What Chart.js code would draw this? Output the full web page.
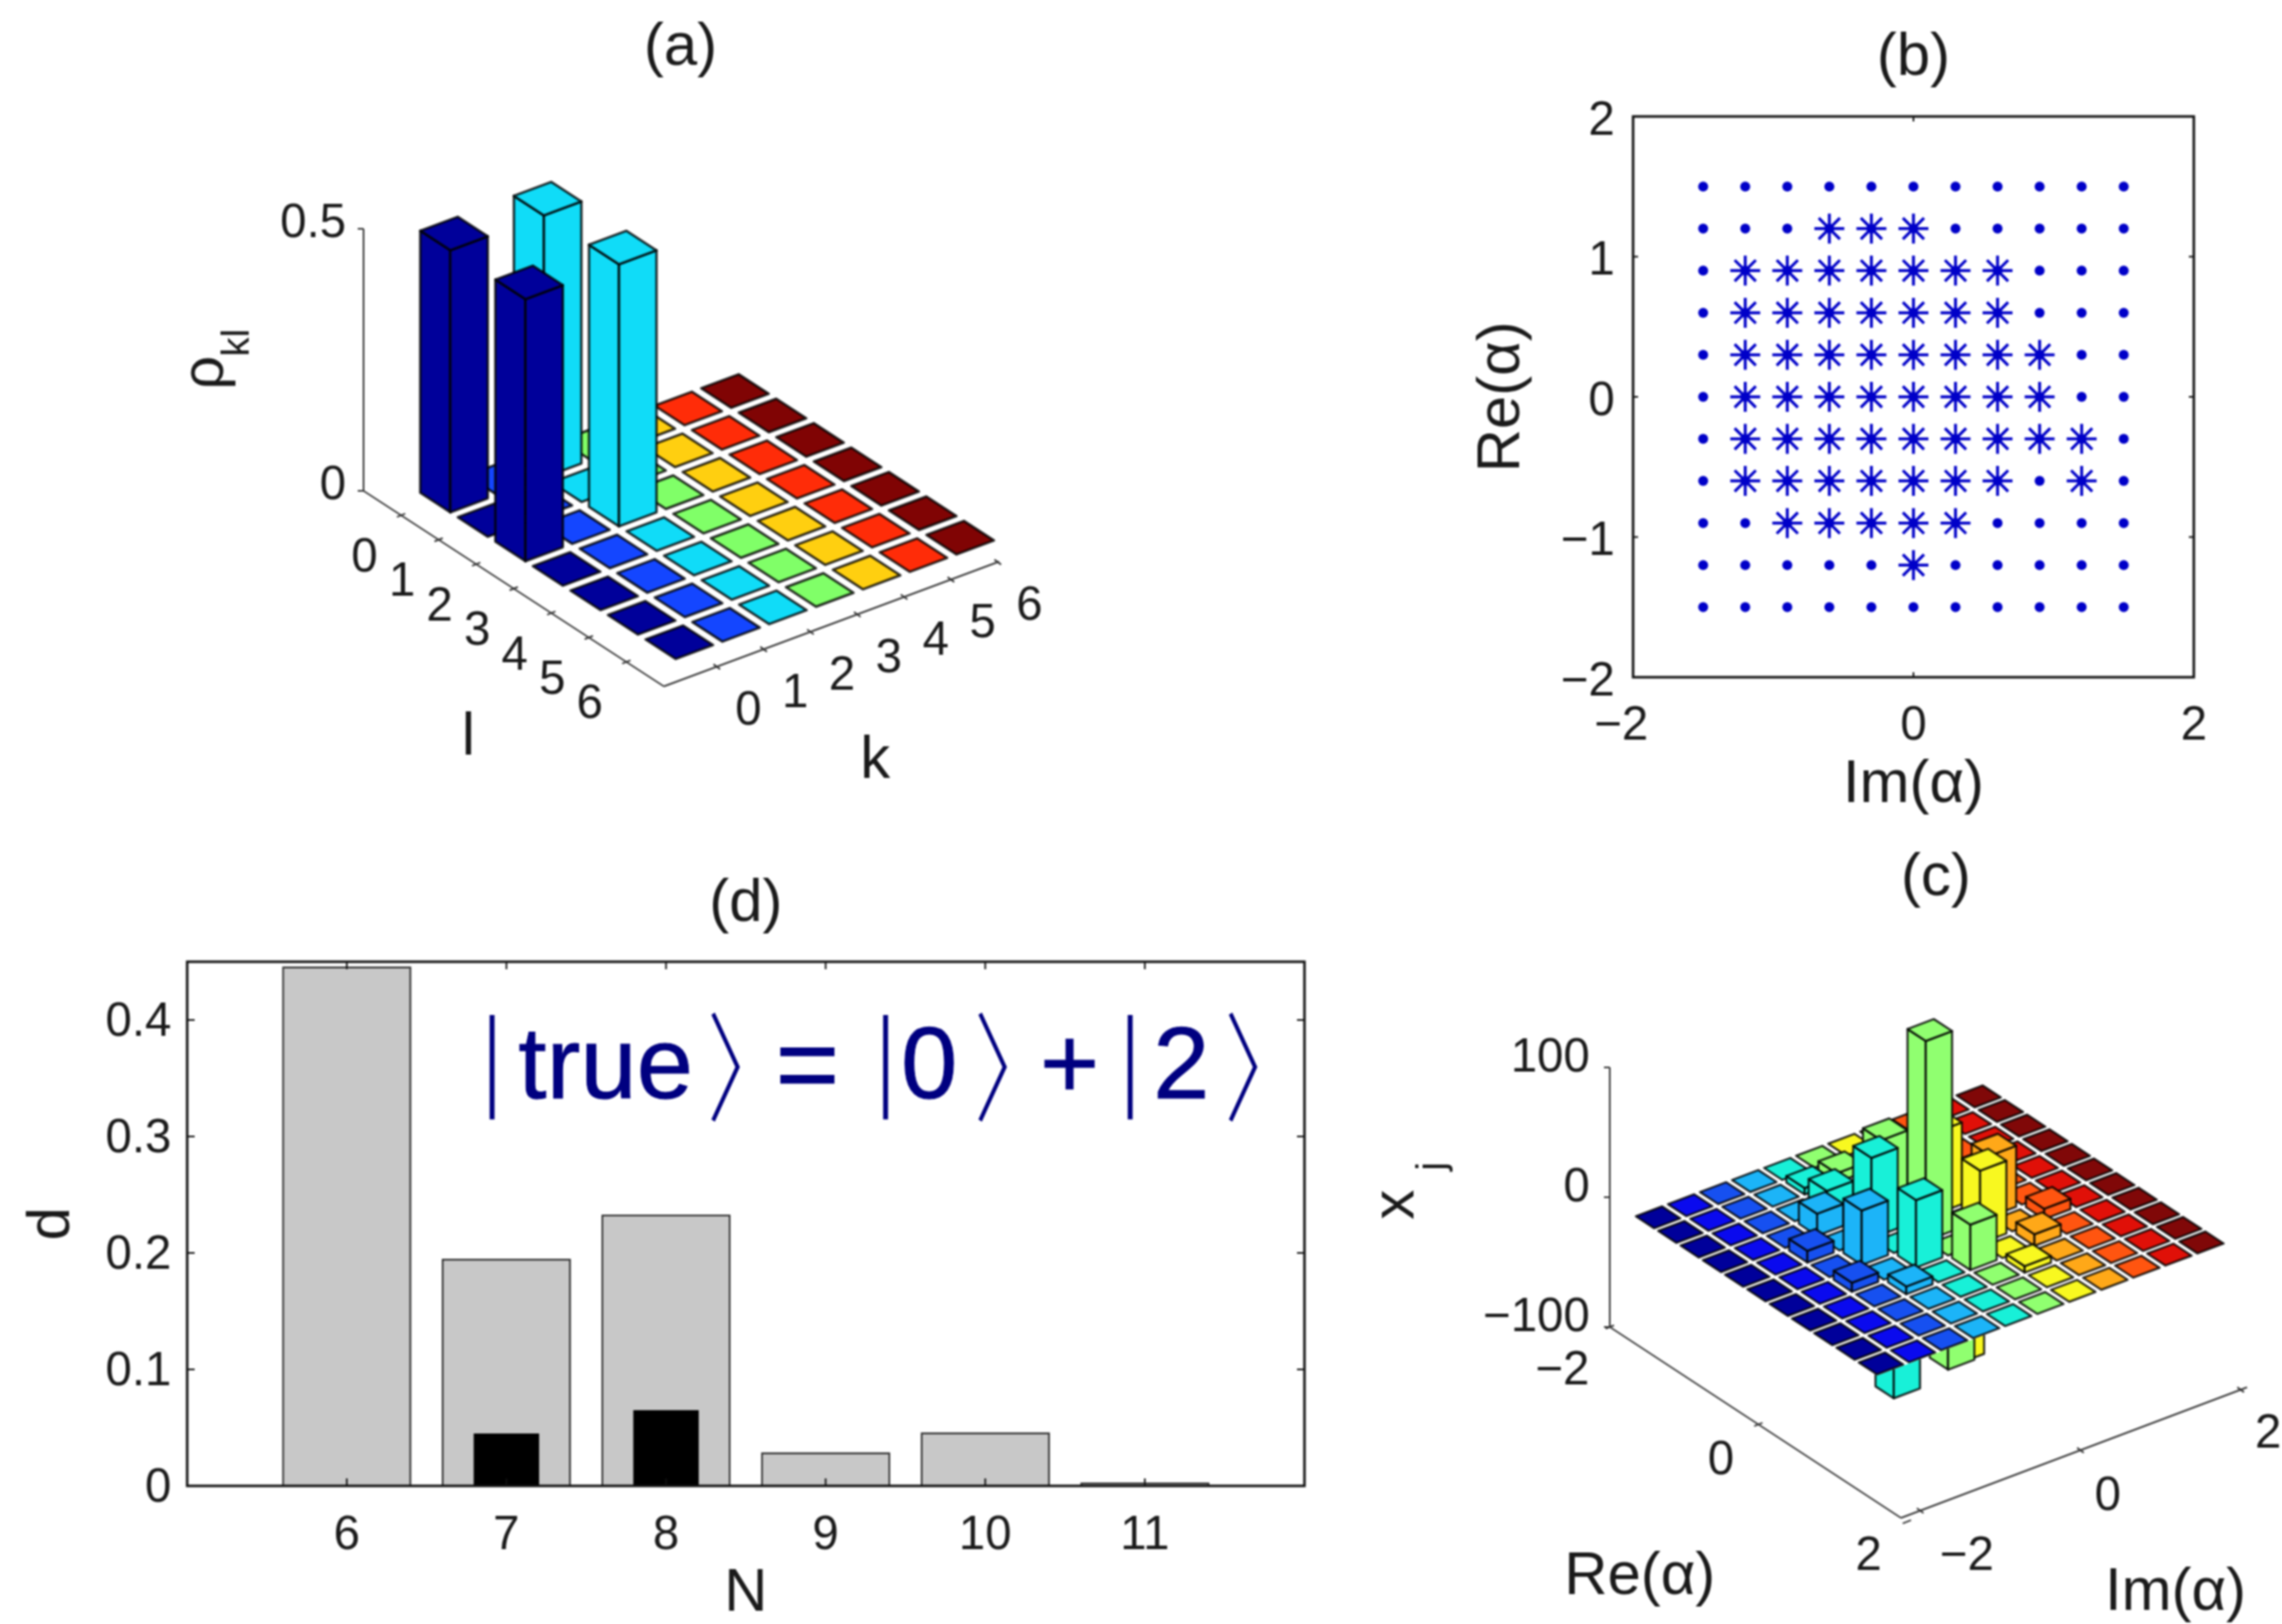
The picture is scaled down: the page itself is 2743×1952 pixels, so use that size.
<!DOCTYPE html>
<html lang="en">

<head>
  <meta charset="UTF-8">
  <title>Density matrix reconstruction</title>
  <script src="https://cdn.jsdelivr.net/npm/chart.js"></script>
  <style>
    html, body { margin: 0; background: #fff; overflow: hidden; }
    canvas { position: absolute; filter: blur(0.8px); }
  </style>
</head>

<body>
  <canvas id="panel_a" width="1400" height="1000" style="left:0;top:0"></canvas>
  <canvas id="panel_b" width="1003" height="1000" style="left:1740px;top:0"></canvas>
  <canvas id="panel_c" width="1103" height="952" style="left:1640px;top:1000px"></canvas>
  <canvas id="panel_d" width="1640" height="912" style="left:0;top:1040px"></canvas>

<script>
  // panel (a): rho_kl, rows are l, columns are k
  const rhoIndex = [0, 1, 2, 3, 4, 5, 6]
  const rhoValues = [
    [0.5, 0, 0.5, 0, 0, 0, 0],
    [0, 0, 0, 0, 0, 0, 0],
    [0.5, 0, 0.5, 0, 0, 0, 0],
    [0, 0, 0, 0, 0, 0, 0],
    [0, 0, 0, 0, 0, 0, 0],
    [0, 0, 0, 0, 0, 0, 0],
    [0, 0, 0, 0, 0, 0, 0]
  ]
  const rhoColors = ['#00009a', '#1446ff', '#10dcf8', '#80ff68', '#ffcf10', '#ff2c08', '#800404']
  const rhoTicks = [0, 0.5]

  // panel (b): sampling grid and the selected points
  const gridIm = [-1.5, -1.2, -0.9, -0.6, -0.3, 0, 0.3, 0.6, 0.9, 1.2, 1.5]
  const gridRe = [1.5, 1.2, 0.9, 0.6, 0.3, 0, -0.3, -0.6, -0.9, -1.2, -1.5]
  const starIm = [
    [],
    [-0.6, -0.3, 0],
    [-1.2, -0.9, -0.6, -0.3, 0, 0.3, 0.6],
    [-1.2, -0.9, -0.6, -0.3, 0, 0.3, 0.6],
    [-1.2, -0.9, -0.6, -0.3, 0, 0.3, 0.6, 0.9],
    [-1.2, -0.9, -0.6, -0.3, 0, 0.3, 0.6, 0.9],
    [-1.2, -0.9, -0.6, -0.3, 0, 0.3, 0.6, 0.9, 1.2],
    [-1.2, -0.9, -0.6, -0.3, 0, 0.3, 0.6, 1.2],
    [-0.9, -0.6, -0.3, 0, 0.3],
    [0],
    []
  ]

  // panel (c): x_j, rows are Re(alpha), columns are Im(alpha)
  const cellsRe = [-1.5, -1.2, -0.9, -0.6, -0.3, 0, 0.3, 0.6, 0.9, 1.2, 1.5]
  const cellsIm = [-2.1, -1.7, -1.3, -0.9, -0.5, -0.1, 0.3, 0.7, 1.1, 1.5, 1.9]
  const xjValues = [
    [0, 0, 0, 0, 0, 0, 0, 0, 0, 0, 0],
    [0, 0, 0, 0, 5, 7, 0, 0, 0, 0, 0],
    [0, 0, 0, 0, 14, 0, 0, 0, 0, 0, 0],
    [0, 0, 0, 17, 0, 55, 0, 0, 0, 0, 0],
    [0, 0, 9, 0, 62, 0, 63, 0, 0, 0, 0],
    [0, 0, 0, 42, -112, 154, -104, 47, 0, 0, 0],
    [0, 0, 7, 0, 52, -88, 56, 0, 8, 0, 0],
    [0, 0, 0, 6, 0, 35, 0, 9, 0, 0, 0],
    [0, 0, 0, 0, 0, 0, 5, 0, 0, 0, 0],
    [0, 0, 0, 0, 0, 0, 0, 0, 0, 0, 0],
    [0, 0, 0, 0, 0, 0, 0, 0, 0, 0, 0]
  ]
  const xjColors = ['#00009a', '#0a0aee', '#1650f0', '#1cb4f8', '#18f0d8', '#90ff70', '#f8f820', '#ffa818', '#ff5510', '#e01008', '#800808']
  const xjTicks = [-100, 0, 100]
  const alphaTicks = [-2, 0, 2]

  // panel (d): distance against N
  const dimN = [6, 7, 8, 9, 10, 11]
  const dGrey = [0.446, 0.195, 0.233, 0.029, 0.046, 0.003]
  const dBlack = [0, 0.045, 0.065, 0, 0, 0]

  var fontName = '"Liberation Sans"'
  var textColor = '#1a1a1a'
  var tickSize = 57
  var labelSize = 72

  Chart.defaults.font.family = fontName
  Chart.defaults.color = textColor
  Chart.defaults.animation = false

  function minus(v) {
    return String(v).replace('-', '\u2212')
  }

  function putText(ctx, text, x, y, size, rot, align) {
    ctx.save()
    ctx.translate(x, y)
    if (rot) ctx.rotate(rot)
    ctx.font = size + 'px ' + fontName
    ctx.fillStyle = textColor
    ctx.textAlign = align || 'center'
    ctx.textBaseline = 'middle'
    ctx.fillText(text, 0, 0)
    ctx.restore()
  }

  // orthographic floor: scale fractions are walked along the three axis vectors
  function project(chart, cfg, l, k, z) {
    var sx = chart.scales.x, sy = chart.scales.y, sz = chart.scales.z
    var fk = (sx.getPixelForValue(k) - sx.left) / sx.width
    var fl = (sy.bottom - sy.getPixelForValue(l)) / sy.height
    var fz = (sz.bottom - sz.getPixelForValue(z)) / sz.height
    return [
      cfg.corner[0] + fl * cfg.lVec[0] + fk * cfg.kVec[0],
      cfg.corner[1] + fl * cfg.lVec[1] + fk * cfg.kVec[1] + fz * cfg.zVec[1]
    ]
  }

  function face(ctx, pts) {
    ctx.beginPath()
    pts.forEach((p, i) => i ? ctx.lineTo(p[0], p[1]) : ctx.moveTo(p[0], p[1]))
    ctx.closePath()
    ctx.fill()
    ctx.stroke()
  }

  function line(ctx, a, b) {
    ctx.beginPath()
    ctx.moveTo(a[0], a[1])
    ctx.lineTo(b[0], b[1])
    ctx.stroke()
  }

  function bars3d(cfg) {
    return {
      id: 'bars3d',
      afterDatasetsDraw(chart) {
        var ctx = chart.ctx
        var sx = chart.scales.x, sy = chart.scales.y, sz = chart.scales.z
        var P = (l, k, z) => project(chart, cfg, l, k, z)
        ctx.save()

        // axes
        ctx.strokeStyle = '#333'
        ctx.lineWidth = cfg.axisWidth
        var A = P(sy.min, sx.min, sz.min), B = P(sy.max, sx.min, sz.min), C = P(sy.max, sx.max, sz.min)
        line(ctx, P(sy.min, sx.min, sz.max), A)
        line(ctx, A, B)
        line(ctx, B, C)

        cfg.zTicks.forEach((t) => {
          var p = P(sy.min, sx.min, t)
          line(ctx, p, [p[0] - 7, p[1]])
          putText(ctx, minus(t), p[0] - cfg.zLabel[0], p[1] - cfg.zLabel[1], tickSize, 0, 'right')
        })
        cfg.lTicks.forEach((t, i) => {
          var p = P(t, sx.min, sz.min)
          line(ctx, [p[0] - 5, p[1] + 2], [p[0] + 5, p[1] - 2])
          putText(ctx, minus(t), p[0] + cfg.lLabel[i][0], p[1] + cfg.lLabel[i][1], tickSize)
        })
        cfg.kTicks.forEach((t, i) => {
          var p = P(sy.max, t, sz.min)
          line(ctx, [p[0] - 4, p[1] - 3], [p[0] + 4, p[1] + 3])
          putText(ctx, minus(t), p[0] + cfg.kLabel[i][0], p[1] + cfg.kLabel[i][1], tickSize)
        })

        // back to front, so the nearer bars paint over the farther ones
        var items = chart.data.datasets[0].data.slice()
        items.sort((a, b) => P(a.y, a.x, 0)[1] - P(b.y, b.x, 0)[1])

        ctx.lineWidth = cfg.edgeWidth
        ctx.lineJoin = 'round'
        ctx.strokeStyle = cfg.edge

        function sides(d, top, low) {
          var l0 = d.y - cfg.halfL, l1 = d.y + cfg.halfL
          var k0 = d.x - cfg.halfK, k1 = d.x + cfg.halfK
          ctx.fillStyle = d.color
          face(ctx, [P(l1, k0, top), P(l0, k0, top), P(l0, k0, low), P(l1, k0, low)])
          face(ctx, [P(l1, k0, top), P(l1, k1, top), P(l1, k1, low), P(l1, k0, low)])
        }

        // bars under the sheet only show past its front edge
        var below = items.filter((d) => d.z < 0)
        below.forEach((d) => sides(d, 0, d.z))
        if (below.length) {
          var ls = items.map((d) => d.y), ks = items.map((d) => d.x)
          var lo = Math.min(...ls) - cfg.halfL, hi = Math.max(...ls) + cfg.halfL
          var ko = Math.min(...ks) - cfg.halfK, ke = Math.max(...ks) + cfg.halfK
          ctx.save()
          ctx.fillStyle = '#fff'
          ctx.strokeStyle = '#fff'
          face(ctx, [P(lo, ko, 0), P(hi, ko, 0), P(hi, ke, 0), P(lo, ke, 0)])
          ctx.restore()
        }

        items.forEach((d) => {
          var top = Math.max(d.z, 0)
          var l0 = d.y - cfg.halfL, l1 = d.y + cfg.halfL
          var k0 = d.x - cfg.halfK, k1 = d.x + cfg.halfK
          if (d.z > 0) sides(d, top, 0)
          ctx.fillStyle = d.color
          face(ctx, [P(l0, k0, top), P(l1, k0, top), P(l1, k1, top), P(l0, k1, top)])
        })
        ctx.restore()

        cfg.extra(ctx)
      }
    }
  }

  // frame and inward ticks of the flat panels
  function boxAxes(tickLen) {
    return {
      id: 'boxAxes',
      afterDatasetsDraw(chart) {
        var ctx = chart.ctx, a = chart.chartArea
        ctx.save()
        ctx.strokeStyle = '#111'
        ctx.lineWidth = 3
        ctx.strokeRect(a.left, a.top, a.right - a.left, a.bottom - a.top)
        ctx.lineWidth = 2
        chart.scales.x.ticks.forEach((t) => {
          var x = chart.scales.x.getPixelForValue(t.value)
          line(ctx, [x, a.top], [x, a.top + tickLen])
          line(ctx, [x, a.bottom], [x, a.bottom - tickLen])
        })
        chart.scales.y.ticks.forEach((t) => {
          var y = chart.scales.y.getPixelForValue(t.value)
          line(ctx, [a.left, y], [a.left + tickLen, y])
          line(ctx, [a.right, y], [a.right - tickLen, y])
        })
        ctx.restore()
      }
    }
  }

  function cellData(rowValues, rowKeys, colKeys, colors) {
    var out = []
    rowValues.forEach((row, r) => row.forEach((v, c) => {
      out.push({ x: colKeys[c], y: rowKeys[r], z: v, color: colors[c] })
    }))
    return out
  }

  function hiddenScale(min, max, axis) {
    return { type: 'linear', axis: axis, min: min, max: max, display: false }
  }

  function plainPlugins(titleText, top, bottom) {
    return {
      legend: { display: false },
      tooltip: { enabled: false },
      title: {
        display: true, text: titleText, fullSize: false, color: textColor,
        font: { size: labelSize, weight: 'normal', lineHeight: 1 },
        padding: { top: top, bottom: bottom }
      }
    }
  }

  // (a)
  new Chart(document.getElementById('panel_a'), {
    type: 'scatter',
    data: { datasets: [{ data: cellData(rhoValues, rhoIndex, rhoIndex, rhoColors), pointRadius: 0 }] },
    options: {
      responsive: false,
      layout: { padding: { left: 236 } },
      plugins: plainPlugins('(a)', 22, 10),
      scales: {
        x: hiddenScale(-1.13, 6.03, 'x'),
        y: hiddenScale(-1, 7, 'y'),
        z: hiddenScale(0, 0.5, 'y')
      }
    },
    plugins: [bars3d({
      corner: [437, 590], lVec: [361, 235], kVec: [403, -150], zVec: [0, -315],
      halfL: 0.4, halfK: 0.4, edge: 'rgba(0,0,0,0.8)', edgeWidth: 3, axisWidth: 2,
      zTicks: rhoTicks, zLabel: [21, 6],
      lTicks: rhoIndex, lLabel: rhoIndex.map(() => [-44, 52]),
      kTicks: rhoIndex, kLabel: rhoIndex.map(() => [38, 54]),
      extra(ctx) {
        putText(ctx, 'l', 563, 887, labelSize)
        putText(ctx, 'k', 1052, 915, labelSize)
        putText(ctx, '\u03c1', 248, 448, labelSize, -Math.PI / 2)
        putText(ctx, 'kl', 286, 412, 46, -Math.PI / 2)
      }
    })]
  })

  // (b)
  var gridPoints = []
  var starPoints = []
  gridRe.forEach((re, r) => {
    gridIm.forEach((im) => gridPoints.push({ x: im, y: re }))
    starIm[r].forEach((im) => starPoints.push({ x: im, y: re }))
  })

  new Chart(document.getElementById('panel_b'), {
    type: 'scatter',
    data: {
      datasets: [
        { data: gridPoints, pointStyle: 'circle', pointRadius: 6, backgroundColor: '#0000c8', borderWidth: 0 },
        { data: starPoints, pointStyle: 'star', pointRadius: 18, borderColor: '#0000c8', borderWidth: 3.5 }
      ]
    },
    options: {
      responsive: false,
      layout: { padding: { right: 106 } },
      plugins: plainPlugins('(b)', 34, 34),
      scales: {
        x: {
          type: 'linear', min: -2, max: 2,
          afterFit(s) { s.height = 186 },
          grid: { display: false, drawTicks: false }, border: { display: false },
          ticks: {
            stepSize: 2, padding: 25, maxRotation: 0, font: { size: tickSize },
            callback: (v) => v < 0 ? minus(v) + '\u2002' : minus(v)
          },
          title: { display: true, text: 'Im(\u03b1)', font: { size: labelSize, lineHeight: 1 }, padding: { top: 20, bottom: 20 } }
        },
        y: {
          type: 'linear', min: -2, max: 2,
          afterFit(s) { s.width = 223 },
          grid: { display: false, drawTicks: false }, border: { display: false },
          ticks: { stepSize: 1, padding: 22, labelOffset: 6, font: { size: tickSize }, callback: minus },
          title: { display: true, text: 'Re(\u03b1)', font: { size: labelSize, lineHeight: 1 }, padding: { top: 30, bottom: 30 } }
        }
      }
    },
    plugins: [boxAxes(6)]
  })

  // (c)
  new Chart(document.getElementById('panel_c'), {
    type: 'scatter',
    data: { datasets: [{ data: cellData(xjValues, cellsRe, cellsIm, xjColors), pointRadius: 0 }] },
    options: {
      responsive: false,
      layout: { padding: { left: 271 } },
      plugins: plainPlugins('(c)', 20, 10),
      scales: {
        x: hiddenScale(-2.24, 2.08, 'x'),
        y: hiddenScale(-2, 1.92, 'y'),
        z: hiddenScale(-100, 100, 'y')
      }
    },
    plugins: [bars3d({
      corner: [295, 595], lVec: [350, 229.5], kVec: [416, -157], zVec: [0, -312],
      halfL: 0.123, halfK: 0.164, edge: 'rgba(0,0,0,0.85)', edgeWidth: 2.5, axisWidth: 2,
      zTicks: xjTicks, zLabel: [24, 11],
      lTicks: alphaTicks, lLabel: [[-57, 53], [-45, 44], [-46, 42]],
      kTicks: alphaTicks, kLabel: [[56, 56], [33, 56], [33, 54]],
      extra(ctx) {
        putText(ctx, 'Re(\u03b1)', 331, 896, labelSize)
        putText(ctx, 'Im(\u03b1)', 975, 915, labelSize)
        putText(ctx, 'x', 39, 448, labelSize, -Math.PI / 2)
        putText(ctx, 'j', 83, 402, 48, -Math.PI / 2)
      }
    })]
  })

  // (d)
  new Chart(document.getElementById('panel_d'), {
    type: 'bar',
    data: {
      datasets: [
        {
          data: dimN.map((n, i) => ({ x: n, y: dBlack[i] })), backgroundColor: '#000', borderWidth: 0,
          barPercentage: 0.41, categoryPercentage: 1, grouped: false, order: 1
        },
        {
          data: dimN.map((n, i) => ({ x: n, y: dGrey[i] })), backgroundColor: '#c8c8c8', borderColor: '#333', borderWidth: 2.5,
          barPercentage: 0.81, categoryPercentage: 1, grouped: false, order: 2
        }
      ]
    },
    options: {
      responsive: false,
      layout: { padding: { right: 72 } },
      plugins: plainPlugins('(d)', 11, 33),
      scales: {
        x: {
          type: 'linear', min: 5, max: 12, offset: false,
          afterBuildTicks(s) { s.ticks = s.ticks.filter((t) => dimN.includes(t.value)) },
          afterFit(s) { s.height = 166 },
          grid: { display: false, drawTicks: false }, border: { display: false },
          ticks: { stepSize: 1, padding: 26, maxRotation: 0, font: { size: tickSize } },
          title: { display: true, text: 'N', font: { size: labelSize, lineHeight: 1 }, padding: { top: 0, bottom: 0 } }
        },
        y: {
          type: 'linear', min: 0, max: 0.45,
          afterFit(s) { s.width = 225 },
          grid: { display: false, drawTicks: false }, border: { display: false },
          ticks: { stepSize: 0.1, includeBounds: false, padding: 19, labelOffset: 3, font: { size: tickSize } },
          title: { display: true, text: 'd', font: { size: labelSize, lineHeight: 1 }, padding: { top: 27, bottom: 27 } }
        }
      }
    },
    plugins: [boxAxes(9), {
      id: 'trueLabel',
      afterDraw(chart) {
        var ctx = chart.ctx
        var base = 280
        ctx.save()
        ctx.fillStyle = '#000080'
        ctx.strokeStyle = '#000080'
        ctx.lineWidth = 1
        ctx.textBaseline = 'alphabetic'
        ctx.textAlign = 'left'
        ctx.font = '122px ' + fontName
        ;[['true', 623], ['0', 1083], ['+', 1250], ['2', 1386]].forEach((s) => {
          ctx.fillText(s[0], s[1], base)
          ctx.strokeText(s[0], s[1], base)
        })
        ctx.font = '132px ' + fontName
        ctx.fillText('=', 932, base + 4)
        ctx.strokeText('=', 932, base + 4)
        // tall thin bars and angle brackets of the kets
        ;[582, 1055, 1349].forEach((x) => {
          ctx.save()
          ctx.translate(x, 277)
          ctx.scale(0.55, 1)
          ctx.font = '133px ' + fontName
          ctx.fillText('|', 0, 0)
          ctx.restore()
        })
        ;[850, 1171, 1472].forEach((x) => {
          ctx.save()
          ctx.translate(x, 297)
          ctx.scale(0.7, 1)
          ctx.font = '300 142px "Noto Sans CJK JP"'
          ctx.fillText('\u3009', 0, 0)
          ctx.restore()
        })
        ctx.restore()
      }
    }]
  })
</script>

</body>

</html>
